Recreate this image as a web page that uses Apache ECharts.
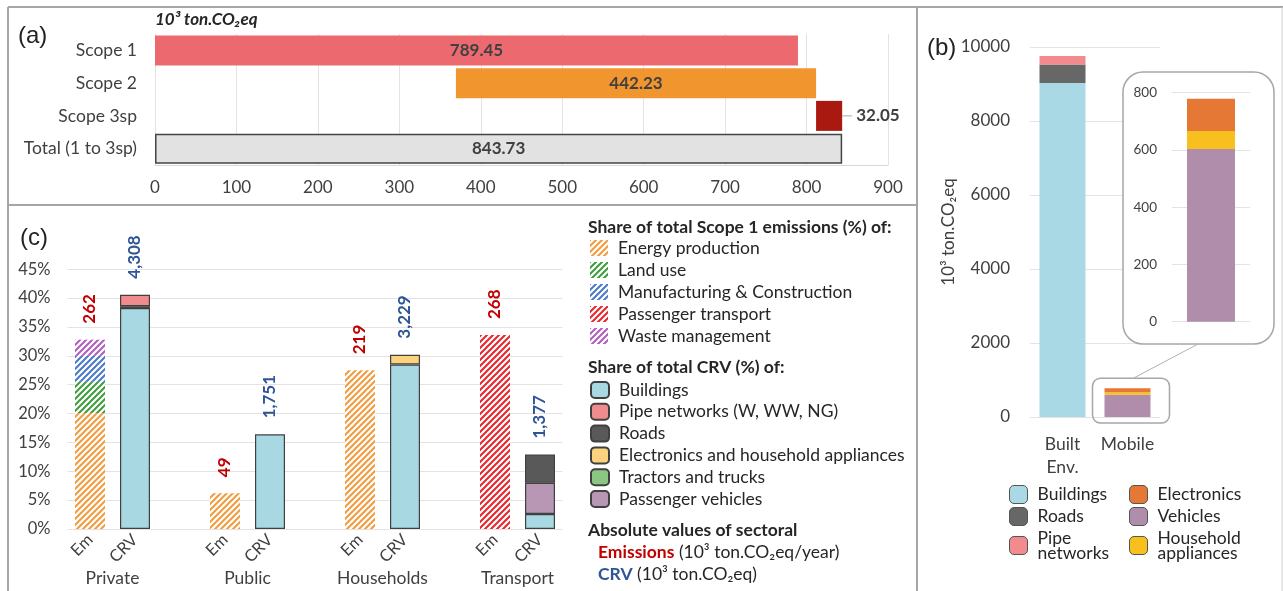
<!DOCTYPE html>
<html>
<head>
<meta charset="utf-8">
<script src="https://cdn.jsdelivr.net/npm/echarts@6/dist/echarts.min.js"></script>
<style>
  html, body { margin: 0; padding: 0; background: #fff; }
  #main { width: 1283px; height: 591px; }
</style>
</head>
<body>
<div id="main"></div>
<script>
var FONT = 'Lato, "Open Sans", sans-serif';

// ---- (a) scopes, 10^3 ton CO2eq
var scopeNames = ['Scope 1', 'Scope 2', 'Scope 3sp', 'Total (1 to 3sp)'];
var scopeValues = [789.45, 442.23, 32.05, 843.73];

// ---- (c) share (%) of total scope 1 emissions / total CRV
var sectorNames = ['Private', 'Public', 'Households', 'Transport'];
var emEnergy = [20.1, 6.2, 27.5, 0];
var emLandUse = [5.4, 0, 0, 0];
var emManufacturing = [4.5, 0, 0, 0];
var emPassenger = [0, 0, 0, 33.6];
var emWaste = [2.8, 0, 0, 0];
var crvBuildings = [38.3, 16.4, 28.5, 2.6];
var crvVehicles = [0, 0, 0, 5.4];
var crvElectronics = [0, 0, 1.7, 0];
var crvRoads = [0.3, 0, 0, 4.9];
var crvPipes = [2.0, 0, 0, 0];
var crvTractors = [0, 0, 0, 0];
var emTotals = [262, 49, 219, 268];
var crvTotals = [4308, 1751, 3229, 1377];

// ---- (b) CRV, 10^3 ton CO2eq
var crvGroups = ['Built\nEnv.', 'Mobile'];
var bBuildings = [9030, 0];
var bRoads = [500, 0];
var bPipes = [230, 0];
var bVehicles = [0, 603];
var bAppliances = [0, 63];
var bElectronics = [0, 113];

var scopeColors = ['#ec6a6f', '#f1952f', '#a9190f', '#e2e2e2'];

function hatch(color) {
  var c = document.createElement('canvas');
  c.width = c.height = 6;
  var ctx = c.getContext('2d');
  ctx.fillStyle = '#fff';
  ctx.fillRect(0, 0, 6, 6);
  ctx.strokeStyle = color;
  ctx.lineWidth = 2;
  ctx.beginPath();
  ctx.moveTo(0, 6); ctx.lineTo(6, 0);
  ctx.moveTo(-3, 3); ctx.lineTo(3, -3);
  ctx.moveTo(3, 9); ctx.lineTo(9, 3);
  ctx.stroke();
  return { image: c, repeat: 'repeat' };
}

// 11 slots: Em, CRV, gap, Em, CRV, gap ...
var slotLabels = [];
for (var i = 0; i < 11; i++) slotLabels.push(i % 3 === 0 ? 'Em' : (i % 3 === 1 ? 'CRV' : ''));

function slots(vals, crv) {
  var out = slotLabels.map(function () { return '-'; });
  vals.forEach(function (v, k) { if (v) out[3 * k + (crv ? 1 : 0)] = v; });
  return out;
}
function fmt(n) { return n.toLocaleString('en-US'); }

var bases = [0, scopeValues[3] - scopeValues[2] - scopeValues[1], scopeValues[3] - scopeValues[2], 0];

var emParts = [emEnergy, emLandUse, emManufacturing, emPassenger, emWaste];
var crvParts = [crvBuildings, crvVehicles, crvElectronics, crvRoads, crvPipes, crvTractors];
var lblData = slotLabels.map(function () { return '-'; });
sectorNames.forEach(function (s, k) {
  var es = 0, cs = 0;
  emParts.forEach(function (a) { es += a[k]; });
  crvParts.forEach(function (a) { cs += a[k]; });
  lblData[3 * k] = { value: es, label: { formatter: fmt(emTotals[k]), color: '#c00000' } };
  lblData[3 * k + 1] = { value: cs, label: { formatter: fmt(crvTotals[k]), color: '#2f5597' } };
});

function emSeries(name, vals, color) {
  return {
    name: name, type: 'bar', xAxisIndex: 1, yAxisIndex: 1, stack: 'c', barWidth: 30, barGap: '-100%',
    itemStyle: { color: hatch(color) }, data: slots(vals, false)
  };
}
function crvSeries(name, vals, color) {
  return {
    name: name, type: 'bar', xAxisIndex: 1, yAxisIndex: 1, stack: 'c', barWidth: 30, barGap: '-100%',
    itemStyle: { color: color, borderColor: '#404040', borderWidth: 1.2 }, data: slots(vals, true)
  };
}
function bSeries(name, vals, color, inset) {
  return {
    name: name, type: 'bar', stack: inset ? 'i' : 'b',
    xAxisIndex: inset ? 4 : 3, yAxisIndex: inset ? 3 : 2, barWidth: inset ? 48 : 46, z: inset ? 6 : 2,
    itemStyle: { color: color },
    data: inset ? [vals[1]] : vals.map(function (v) { return v || '-'; })
  };
}

var axisText = { fontFamily: FONT, color: '#404040' };
var gridLine = { show: true, lineStyle: { color: '#e3e3e3', width: 1 } };
var legendText = { fontFamily: FONT, fontSize: 17.5, color: '#262626', lineHeight: 16, padding: [0, 0, 0, 5] };
var stripB = function (n) { return n.replace(/^b\|/, ''); };
var plain = function (v) { return String(v); };

var myChart = echarts.init(document.getElementById('main'));
var option = {
  animation: false,
  textStyle: { fontFamily: FONT },
  grid: [
    { left: 155, top: 34, width: 733, height: 131, outerBoundsMode: 'none' },
    { left: 67.5, top: 269.3, width: 495, height: 259.7, outerBoundsMode: 'none' },
    { left: 1030, top: 47, width: 130, height: 370, outerBoundsMode: 'none' },
    { left: 1172, top: 92.7, width: 78, height: 229, outerBoundsMode: 'none' }
  ],
  xAxis: [
    {
      gridIndex: 0, type: 'value', min: 0, max: 900, interval: 100,
      axisLine: { show: true, lineStyle: { color: '#d9d9d9' } }, axisTick: { show: false },
      axisLabel: Object.assign({ fontSize: 17, margin: 14, formatter: plain }, axisText), splitLine: gridLine
    },
    {
      gridIndex: 1, type: 'category', data: slotLabels,
      axisLine: { show: false }, axisTick: { show: false },
      axisLabel: Object.assign({ interval: 0, rotate: 45, fontSize: 16.5, margin: 8 }, axisText)
    },
    {
      gridIndex: 1, type: 'value', min: -0.5, max: 10.5, interval: 0.5, position: 'bottom', offset: 40,
      axisLine: { show: false }, axisTick: { show: false }, splitLine: { show: false },
      axisLabel: Object.assign({
        fontSize: 17.5, margin: 0,
        formatter: function (v) {
          var k = (v - 0.5) / 3;
          return Math.abs(k - Math.round(k)) < 1e-6 && sectorNames[Math.round(k)] ? sectorNames[Math.round(k)] : '';
        }
      }, axisText)
    },
    {
      gridIndex: 2, type: 'category', data: crvGroups,
      axisLine: { show: false }, axisTick: { show: false },
      axisLabel: Object.assign({ interval: 0, fontSize: 17.5, lineHeight: 23, margin: 16 }, axisText)
    },
    { gridIndex: 3, type: 'category', data: ['Mobile'], show: false }
  ],
  yAxis: [
    {
      gridIndex: 0, type: 'category', inverse: true, data: scopeNames,
      axisLine: { show: false }, axisTick: { show: false },
      axisLabel: Object.assign({ fontSize: 17.5, margin: 18 }, axisText)
    },
    {
      gridIndex: 1, type: 'value', min: 0, max: 45, interval: 5,
      axisLine: { show: false }, axisTick: { show: false },
      axisLabel: Object.assign({ fontSize: 16.5, margin: 17, formatter: '{value}%' }, axisText),
      splitLine: gridLine
    },
    {
      gridIndex: 2, type: 'value', min: 0, max: 10000, interval: 2000,
      name: '10³ ton.CO₂eq', nameLocation: 'middle', nameGap: 56,
      nameTextStyle: Object.assign({ fontSize: 17 }, axisText),
      axisLine: { show: false }, axisTick: { show: false },
      axisLabel: Object.assign({ fontSize: 17, margin: 20, formatter: plain }, axisText),
      splitLine: gridLine
    },
    {
      gridIndex: 3, type: 'value', min: 0, max: 800, interval: 200, z: 5,
      axisLine: { show: false }, axisTick: { show: false },
      axisLabel: Object.assign({ fontSize: 13.5, margin: 15, formatter: plain }, axisText),
      splitLine: gridLine
    }
  ],
  legend: [
    {
      left: 590, top: 239, orient: 'vertical', padding: 0, itemWidth: 18, itemHeight: 16, itemGap: 4,
      icon: 'rect', selectedMode: false, textStyle: legendText,
      data: ['Energy production', 'Land use', 'Manufacturing & Construction', 'Passenger transport', 'Waste management']
    },
    {
      left: 590, top: 381, orient: 'vertical', padding: 0, itemWidth: 18, itemHeight: 16, itemGap: 3.8,
      icon: 'roundRect', selectedMode: false, textStyle: legendText,
      data: ['Buildings', 'Pipe networks (W, WW, NG)', 'Roads', 'Electronics and household appliances',
        'Tractors and trucks', 'Passenger vehicles']
    },
    {
      left: 1009, top: 485, orient: 'vertical', padding: 0, itemWidth: 18, itemHeight: 18, itemGap: 3,
      icon: 'roundRect', selectedMode: false, formatter: stripB,
      itemStyle: { borderColor: '#555', borderWidth: 1 },
      textStyle: Object.assign({}, legendText, { lineHeight: 15 }),
      data: ['b|Buildings', 'b|Roads', 'b|Pipe\nnetworks']
    },
    {
      left: 1129, top: 485, orient: 'vertical', padding: 0, itemWidth: 18, itemHeight: 18, itemGap: 3,
      icon: 'roundRect', selectedMode: false, formatter: stripB,
      itemStyle: { borderColor: '#555', borderWidth: 1 },
      textStyle: Object.assign({}, legendText, { lineHeight: 15 }),
      data: ['b|Electronics', 'b|Vehicles', 'b|Household\nappliances']
    }
  ],
  series: [
    // (a) waterfall
    {
      name: 'base', type: 'bar', xAxisIndex: 0, yAxisIndex: 0, stack: 'w', barWidth: 30, silent: true,
      itemStyle: { color: 'rgba(0,0,0,0)' }, data: bases
    },
    {
      name: 'scope', type: 'bar', xAxisIndex: 0, yAxisIndex: 0, stack: 'w', barWidth: 30,
      data: scopeValues.map(function (v, k) {
        var d = { value: v, itemStyle: { color: scopeColors[k] } };
        if (k === 3) d.itemStyle.borderColor = '#444', d.itemStyle.borderWidth = 1.5;
        if (k === 2) d.label = { position: 'right', distance: 0 };
        return d;
      }),
      label: {
        show: true, position: 'inside', fontSize: 17, fontWeight: 'bold', color: '#404040', fontFamily: FONT,
        formatter: function (p) {
          var t = p.value.toFixed(2);
          return p.dataIndex === 2 ? '{l| }{v|' + t + '}' : t;
        },
        rich: {
          l: { width: 10, height: 1, backgroundColor: '#aaa' },
          v: { padding: [0, 0, 0, 4], fontSize: 17, fontWeight: 'bold', color: '#404040', fontFamily: FONT }
        }
      }
    },
    // (c) stacked shares
    emSeries('Energy production', emEnergy, '#f39a3c'),
    emSeries('Land use', emLandUse, '#3c9c3c'),
    emSeries('Manufacturing & Construction', emManufacturing, '#4a78c8'),
    emSeries('Passenger transport', emPassenger, '#e8242c'),
    emSeries('Waste management', emWaste, '#b05cc0'),
    crvSeries('Buildings', crvBuildings, '#a8d9e3'),
    crvSeries('Passenger vehicles', crvVehicles, '#b797b3'),
    crvSeries('Electronics and household appliances', crvElectronics, '#fbd37d'),
    crvSeries('Roads', crvRoads, '#595959'),
    crvSeries('Pipe networks (W, WW, NG)', crvPipes, '#f08c8e'),
    crvSeries('Tractors and trucks', crvTractors, '#8cc684'),
    {
      name: 'totals', type: 'bar', xAxisIndex: 1, yAxisIndex: 1, stack: 'lbl', barWidth: 30, barGap: '-100%',
      silent: true, itemStyle: { color: 'rgba(0,0,0,0)' }, data: lblData,
      label: {
        show: true, position: 'top', rotate: 90, align: 'left', verticalAlign: 'middle', distance: 16,
        fontSize: 17, fontWeight: 'bold', fontFamily: FONT
      }
    },
    // (b) CRV by group + inset
    bSeries('b|Buildings', bBuildings, '#a9d9e4'),
    bSeries('b|Vehicles', bVehicles, '#b08dab'),
    bSeries('b|Household\nappliances', bAppliances, '#f7c01e'),
    bSeries('b|Electronics', bElectronics, '#e57834'),
    bSeries('b|Roads', bRoads, '#676767'),
    bSeries('b|Pipe\nnetworks', bPipes, '#f28b8d'),
    bSeries('b|Vehicles', bVehicles, '#b08dab', true),
    bSeries('b|Household\nappliances', bAppliances, '#f7c01e', true),
    bSeries('b|Electronics', bElectronics, '#e57834', true)
  ],
  graphic: [
    { id: 'f1', type: 'line', z: 10, shape: { x1: 8, y1: 7, x2: 1283, y2: 7 }, style: { stroke: '#a6a6a6', lineWidth: 2 } },
    { id: 'f2', type: 'line', z: 10, shape: { x1: 8, y1: 7, x2: 8, y2: 591 }, style: { stroke: '#a6a6a6', lineWidth: 2 } },
    { id: 'f3', type: 'line', z: 10, shape: { x1: 917, y1: 7, x2: 917, y2: 591 }, style: { stroke: '#a6a6a6', lineWidth: 2 } },
    { id: 'f4', type: 'line', z: 10, shape: { x1: 8, y1: 205, x2: 917, y2: 205 }, style: { stroke: '#a6a6a6', lineWidth: 2 } },
    { id: 'f5', type: 'line', z: 10, shape: { x1: 1282, y1: 7, x2: 1282, y2: 591 }, style: { stroke: '#d0d0d0', lineWidth: 1 } },
    { id: 'pa', type: 'text', x: 18, y: 36, style: { text: '(a)', font: '24px "Liberation Sans", Arial', fill: '#222', verticalAlign: 'middle' } },
    { id: 'pb', type: 'text', x: 927, y: 48, style: { text: '(b)', font: '24px "Liberation Sans", Arial', fill: '#222', verticalAlign: 'middle' } },
    { id: 'pc', type: 'text', x: 20, y: 238, style: { text: '(c)', font: '24px "Liberation Sans", Arial', fill: '#222', verticalAlign: 'middle' } },
    { id: 'ua', type: 'text', x: 155, y: 20, style: { text: '10³ ton.CO₂eq', font: 'italic bold 17px ' + FONT, fill: '#262626', verticalAlign: 'middle' } },
    { id: 't1', type: 'text', x: 588, y: 227, style: { text: 'Share of total Scope 1 emissions (%) of:', font: 'bold 17.5px ' + FONT, fill: '#262626', verticalAlign: 'middle' } },
    { id: 't2', type: 'text', x: 588, y: 367, style: { text: 'Share of total CRV (%) of:', font: 'bold 17.5px ' + FONT, fill: '#262626', verticalAlign: 'middle' } },
    { id: 't3', type: 'text', x: 588, y: 530, style: { text: 'Absolute values of sectoral', font: 'bold 17.5px ' + FONT, fill: '#262626', verticalAlign: 'middle' } },
    {
      id: 't4', type: 'text', x: 598, y: 552, style: {
        text: '{r|Emissions} (10³ ton.CO₂eq/year)', font: '17.5px ' + FONT, fill: '#262626', verticalAlign: 'middle',
        rich: { r: { fontWeight: 'bold', fill: '#c00000', fontSize: 17.5, fontFamily: FONT } }
      }
    },
    {
      id: 't5', type: 'text', x: 598, y: 574, style: {
        text: '{b|CRV} (10³ ton.CO₂eq)', font: '17.5px ' + FONT, fill: '#262626', verticalAlign: 'middle',
        rich: { b: { fontWeight: 'bold', fill: '#2f5597', fontSize: 17.5, fontFamily: FONT } }
      }
    },
    {
      id: 'inset', type: 'rect', z: 1, shape: { x: 1123, y: 72, width: 151, height: 272, r: 20 },
      style: { fill: '#fff', stroke: '#a6a6a6', lineWidth: 1.5 }
    }
  ]
};
myChart.setOption(option);

// callout around the Mobile bar, placed with the chart's own scale
var mobileTotal = bVehicles[1] + bAppliances[1] + bElectronics[1];
var p0 = myChart.convertToPixel({ gridIndex: 2 }, [1, 0]);
var p1 = myChart.convertToPixel({ gridIndex: 2 }, [1, mobileTotal]);
myChart.setOption({
  graphic: [
    {
      id: 'zoomBox', type: 'rect', z: 1,
      shape: { x: p0[0] - 35, y: p1[1] - 10, width: 77, height: p0[1] - p1[1] + 16, r: 8 },
      style: { fill: 'none', stroke: '#a6a6a6', lineWidth: 1.5 }
    },
    {
      id: 'zoomLine', type: 'line', z: 1,
      shape: { x1: p0[0] + 6, y1: p1[1] - 10, x2: 1198, y2: 344 },
      style: { stroke: '#b0b0b0', lineWidth: 1 }
    }
  ]
});
</script>
</body>
</html>
